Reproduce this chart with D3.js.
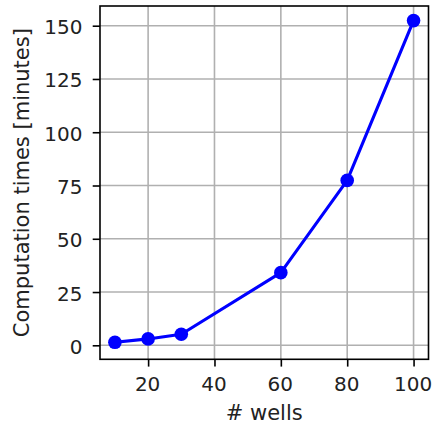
<!DOCTYPE html>
<html>
<head>
<meta charset="utf-8">
<script src="https://cdn.jsdelivr.net/npm/d3@7"></script>
<style>
  html, body { margin: 0; padding: 0; background: #fff; }
  svg { display: block; font-family: "DejaVu Sans", sans-serif; }
</style>
</head>
<body>
<svg id="chart" width="432" height="427"></svg>
<script>
// Computation time as a function of the number of wells
const wells = [10, 20, 30, 60, 80, 100];
const minutes = [1.4, 3.0, 5.2, 34.1, 77.4, 152.4];
const xTicks = [20, 40, 60, 80, 100];
const yTicks = [0, 25, 50, 75, 100, 125, 150];
const xLabel = "# wells";
const yLabel = "Computation times [minutes]";

const svg = d3.select("#chart");
const plot = { left: 100, right: 428.5, top: 6, bottom: 359.3 };

const x = d3.scaleLinear().domain([5.5, 104.5]).range([plot.left, plot.right]);
const y = d3.scaleLinear().domain([-6.57, 159.25]).range([plot.bottom, plot.top]);

const textColor = "#222";
const labelSize = 21;
const tickSize = 20;

// grid
const grid = svg.append("g").attr("stroke", "#b0b0b0").attr("stroke-width", 1.6);
grid.selectAll("line.gx").data(xTicks).join("line")
  .attr("x1", d => x(d)).attr("x2", d => x(d))
  .attr("y1", plot.top).attr("y2", plot.bottom);
grid.selectAll("line.gy").data(yTicks).join("line")
  .attr("x1", plot.left).attr("x2", plot.right)
  .attr("y1", d => y(d)).attr("y2", d => y(d));

// series line + markers
const line = d3.line().x((d, i) => x(wells[i])).y(d => y(d));
svg.append("path").datum(minutes)
  .attr("d", line).attr("fill", "none")
  .attr("stroke", "#0000ff").attr("stroke-width", 3.1)
  .attr("stroke-linejoin", "round").attr("stroke-linecap", "square");
svg.append("g").selectAll("circle").data(minutes).join("circle")
  .attr("cx", (d, i) => x(wells[i])).attr("cy", d => y(d))
  .attr("r", 6.8).attr("fill", "#0000ff");

// axes
const xAxis = d3.axisBottom(x).tickValues(xTicks).tickSize(7.3).tickPadding(7).tickSizeOuter(0);
const yAxis = d3.axisLeft(y).tickValues(yTicks).tickSize(7.3).tickPadding(7).tickSizeOuter(0);

const gx = svg.append("g").attr("transform", `translate(0,${plot.bottom})`).call(xAxis);
const gy = svg.append("g").attr("transform", `translate(${plot.left},0)`).call(yAxis);
[gx, gy].forEach(g => {
  g.select(".domain").remove();
  g.selectAll(".tick line").attr("stroke", "#000").attr("stroke-width", 1.6);
  g.selectAll(".tick text").attr("fill", textColor)
    .attr("font-size", tickSize).attr("font-family", "DejaVu Sans");
});
gx.selectAll(".tick text").attr("dy", null).attr("y", 31.6).attr("dx", -1);
gy.selectAll(".tick text").attr("dy", null).attr("dominant-baseline", null)
  .attr("x", -17.5).attr("y", 8);

// frame
svg.append("rect")
  .attr("x", plot.left).attr("y", plot.top)
  .attr("width", plot.right - plot.left).attr("height", plot.bottom - plot.top)
  .attr("fill", "none").attr("stroke", "#000").attr("stroke-width", 1.6);

// axis labels
svg.append("text").text(xLabel)
  .attr("x", (plot.left + plot.right) / 2).attr("y", 420)
  .attr("text-anchor", "middle").attr("font-size", labelSize).attr("fill", textColor);
svg.append("text").text(yLabel)
  .attr("transform", `translate(28.6,${(plot.top + plot.bottom) / 2}) rotate(-90)`)
  .attr("text-anchor", "middle").attr("font-size", labelSize).attr("fill", textColor);
</script>
</body>
</html>
